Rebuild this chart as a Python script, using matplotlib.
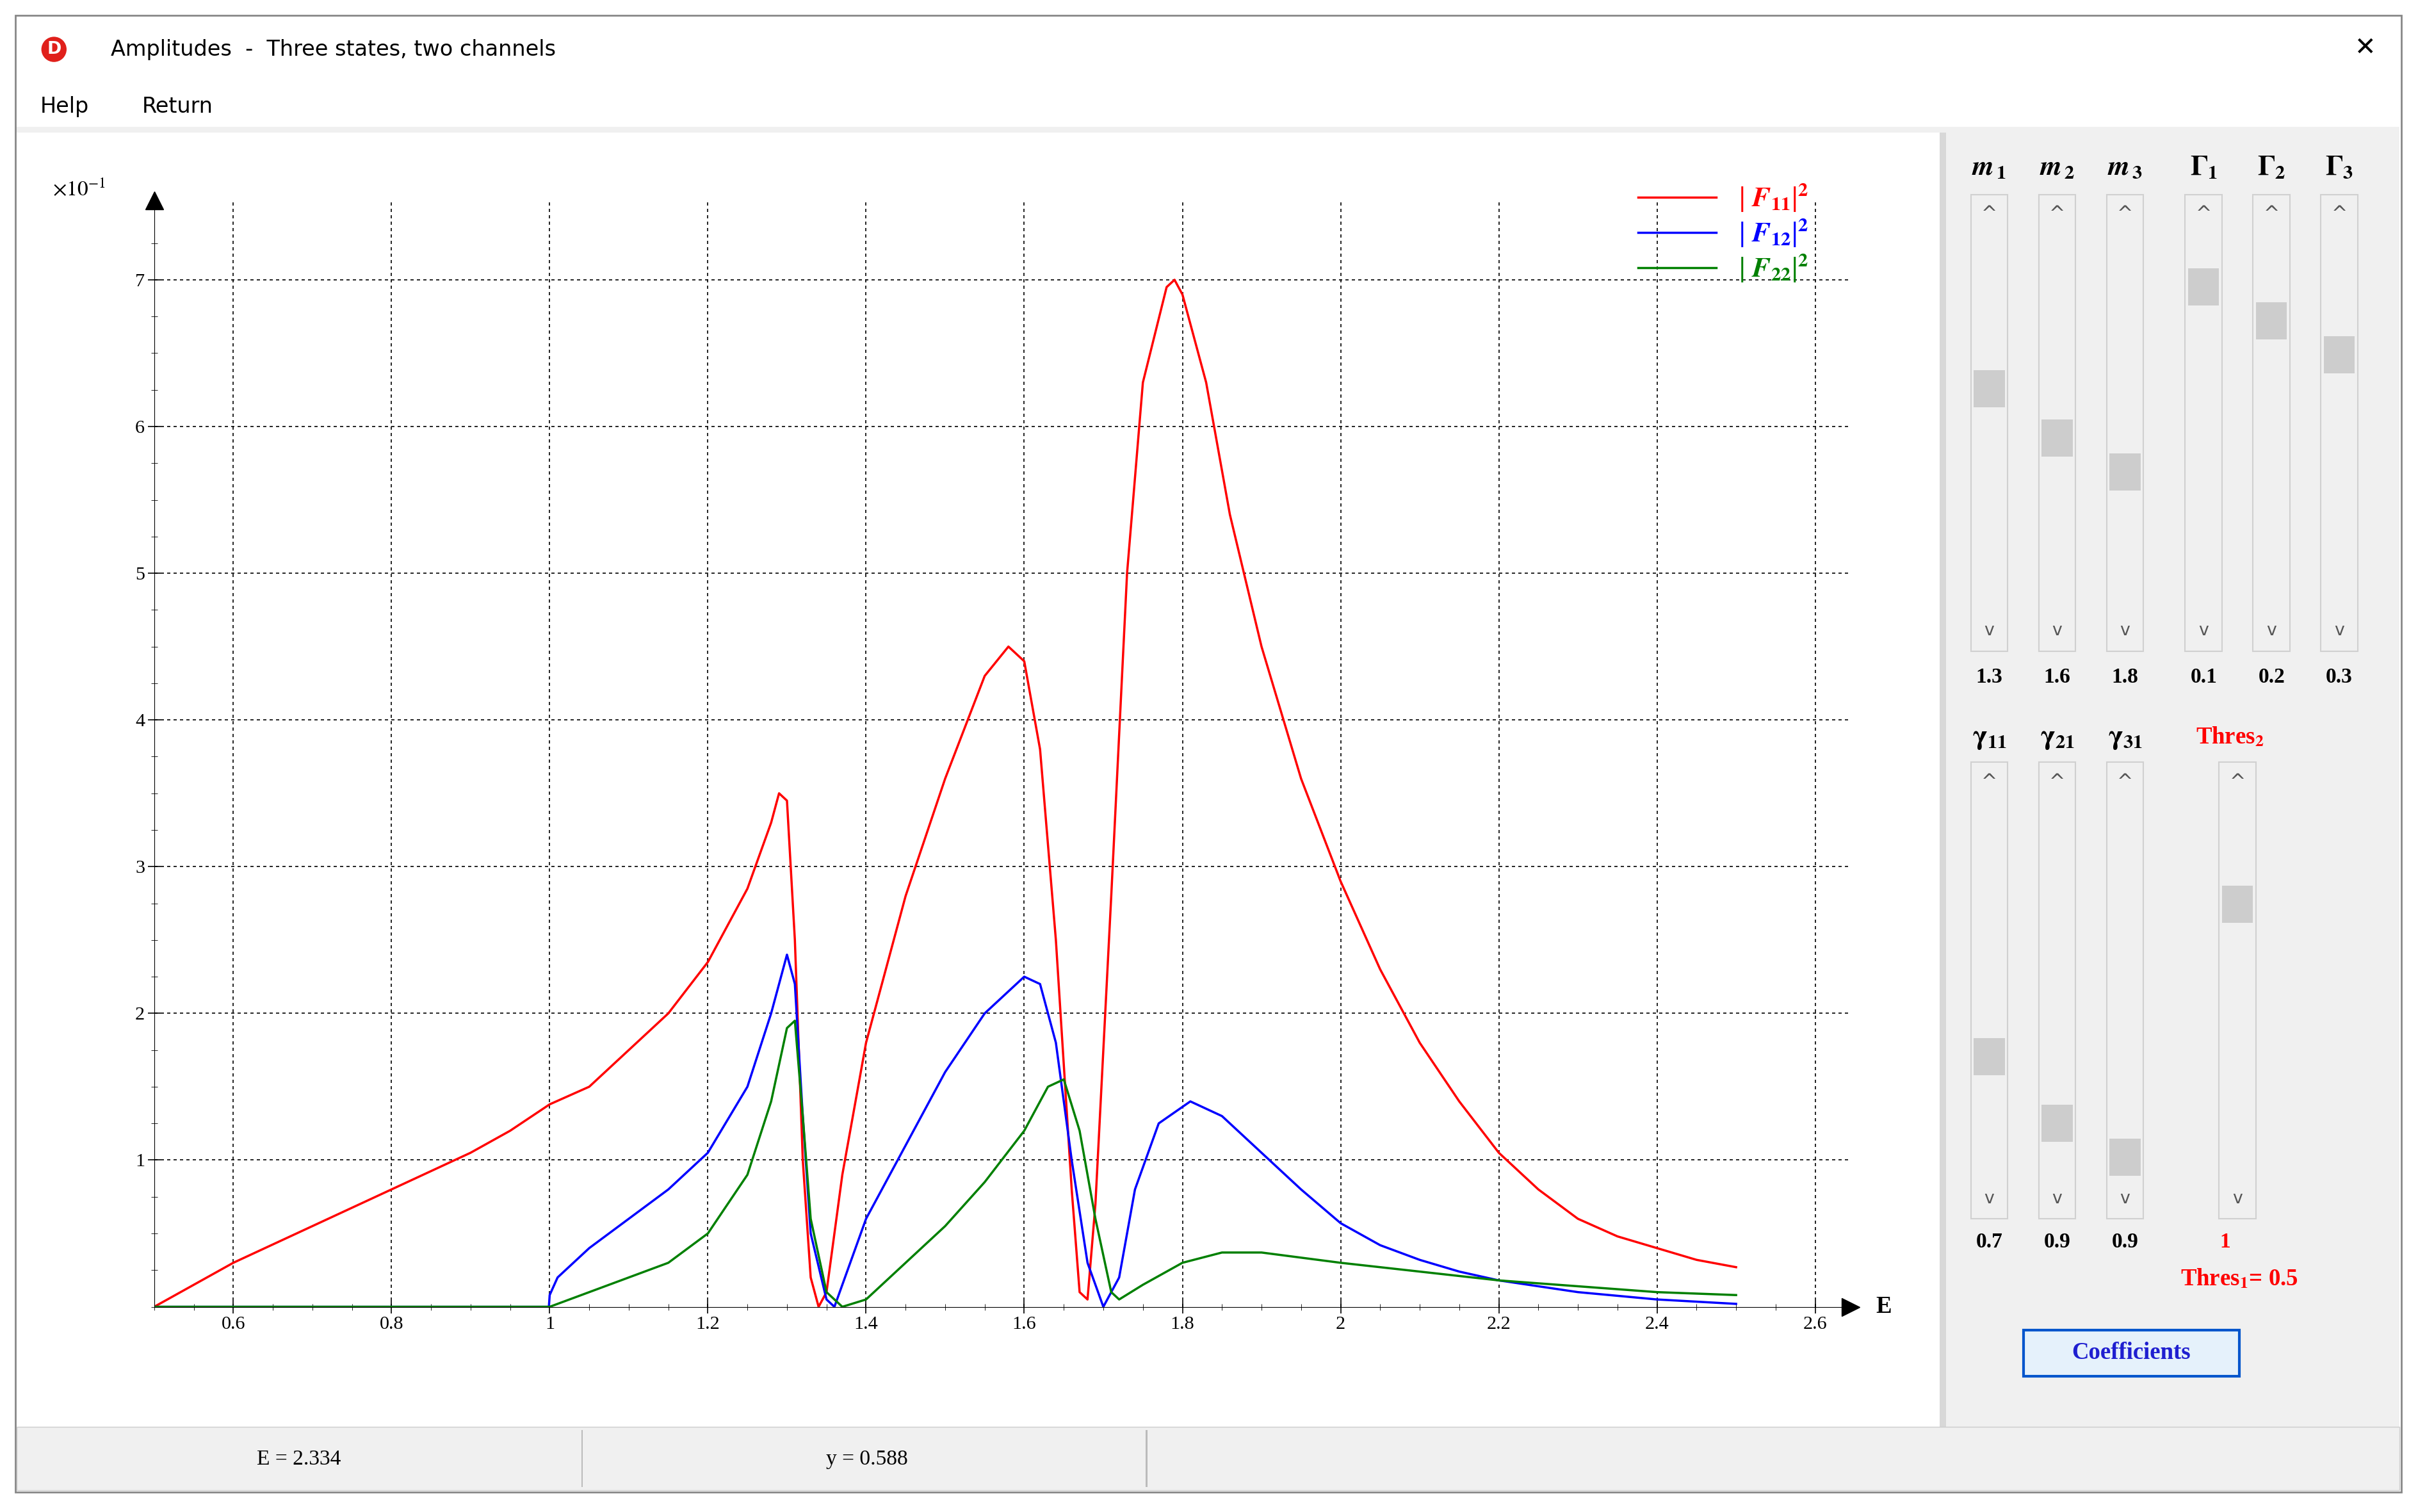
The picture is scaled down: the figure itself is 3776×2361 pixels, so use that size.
import matplotlib.pyplot as plt
from matplotlib.patches import Rectangle
import numpy as np

plt.rcParams['mathtext.fontset'] = 'stix'

# curve samples (y in absolute units)
e_red = [0.5, 0.6, 0.7, 0.8, 0.9, 0.95, 1.0, 1.05, 1.1, 1.15, 1.2, 1.25, 1.28, 1.29, 1.30, 1.31, 1.32, 1.33, 1.34,
         1.35, 1.37, 1.4, 1.45, 1.5, 1.55, 1.58, 1.6, 1.62, 1.64, 1.66, 1.67, 1.68, 1.69, 1.71, 1.73, 1.75, 1.78,
         1.79, 1.8, 1.83, 1.86, 1.9, 1.95, 2.0, 2.05, 2.1, 2.15, 2.2, 2.25, 2.3, 2.35, 2.4, 2.45, 2.5]
f11 = [0, 0.3, 0.55, 0.8, 1.05, 1.2, 1.38, 1.5, 1.75, 2.0, 2.35, 2.85, 3.3, 3.5, 3.45, 2.5, 1.0, 0.2, 0.0,
       0.1, 0.9, 1.8, 2.8, 3.6, 4.3, 4.5, 4.4, 3.8, 2.5, 0.8, 0.1, 0.05, 0.7, 2.8, 5.0, 6.3, 6.95,
       7.0, 6.9, 6.3, 5.4, 4.5, 3.6, 2.9, 2.3, 1.8, 1.4, 1.05, 0.8, 0.6, 0.48, 0.4, 0.32, 0.27]
e_blue = [0.5, 0.999, 1.0, 1.01, 1.05, 1.1, 1.15, 1.2, 1.25, 1.28, 1.30, 1.31, 1.32, 1.33, 1.35, 1.36, 1.38, 1.4,
          1.45, 1.5, 1.55, 1.6, 1.62, 1.64, 1.66, 1.68, 1.70, 1.72, 1.74, 1.77, 1.81, 1.85, 1.9, 1.95, 2.0,
          2.05, 2.1, 2.15, 2.2, 2.3, 2.4, 2.5]
f12 = [0, 0, 0.08, 0.2, 0.4, 0.6, 0.8, 1.05, 1.5, 2.0, 2.4, 2.2, 1.3, 0.5, 0.05, 0.0, 0.3, 0.6,
       1.1, 1.6, 2.0, 2.25, 2.2, 1.8, 1.0, 0.3, 0.0, 0.2, 0.8, 1.25, 1.4, 1.3, 1.05, 0.8, 0.57,
       0.42, 0.32, 0.24, 0.18, 0.1, 0.05, 0.02]
e_green = [0.5, 1.0, 1.05, 1.1, 1.15, 1.2, 1.25, 1.28, 1.30, 1.31, 1.32, 1.33, 1.35, 1.37, 1.4, 1.45, 1.5, 1.55,
           1.6, 1.63, 1.65, 1.67, 1.69, 1.71, 1.72, 1.75, 1.8, 1.85, 1.9, 2.0, 2.1, 2.2, 2.3, 2.4, 2.5]
f22 = [0, 0, 0.1, 0.2, 0.3, 0.5, 0.9, 1.4, 1.9, 1.95, 1.3, 0.6, 0.1, 0.0, 0.05, 0.3, 0.55, 0.85,
       1.2, 1.5, 1.55, 1.2, 0.6, 0.1, 0.05, 0.15, 0.3, 0.37, 0.37, 0.3, 0.24, 0.18, 0.14, 0.1, 0.08]

x_ticks = [0.6, 0.8, 1.0, 1.2, 1.4, 1.6, 1.8, 2.0, 2.2, 2.4, 2.6]
x_tick_labels = ['0.6', '0.8', '1', '1.2', '1.4', '1.6', '1.8', '2', '2.2', '2.4', '2.6']
y_ticks = [1, 2, 3, 4, 5, 6, 7]

top_labels = ['$\\mathbfit{m}_{\\,\\mathbf{1}}$', '$\\mathbfit{m}_{\\,\\mathbf{2}}$', '$\\mathbfit{m}_{\\,\\mathbf{3}}$',
              '$\\mathbf{\\Gamma}_{\\mathbf{1}}$', '$\\mathbf{\\Gamma}_{\\mathbf{2}}$', '$\\mathbf{\\Gamma}_{\\mathbf{3}}$']
top_values = ['1.3', '1.6', '1.8', '0.1', '0.2', '0.3']
top_thumbs = [252, 284, 306, 186, 208, 230]
top_cols = [1290, 1334, 1378, 1429, 1473, 1517]
bot_labels = ['$\\mathbf{\\gamma}_{\\mathbf{11}}$', '$\\mathbf{\\gamma}_{\\mathbf{21}}$', '$\\mathbf{\\gamma}_{\\mathbf{31}}$']
bot_values = ['0.7', '0.9', '0.9']
bot_thumbs = [685, 728, 750, 586]
bot_cols = [1290, 1334, 1378, 1451]

W, H = 1568.0, 980.0
def fx(p): return p / W
def fy(p): return 1 - p / H

fig = plt.figure(figsize=(37.76, 23.61), dpi=100)
fig.patch.set_facecolor('white')
S = 2.41  # font scale from displayed px

def rect(x0, y0, x1, y1, fc, ec='none', lw=1, z=0):
    fig.patches.append(Rectangle((fx(x0), fy(y1)), fx(x1) - fx(x0), fy(y0) - fy(y1),
                                 transform=fig.transFigure, facecolor=fc, edgecolor=ec, lw=lw, zorder=z))

# window chrome
rect(10, 10, 1557, 967, 'white', '#888888', 2)
rect(11, 82, 1556, 86, '#f0f0f0')
rect(1260, 86, 1556, 925, '#f0f0f0')
rect(1258, 86, 1262, 925, '#d8d8d8')
rect(11, 925, 1556, 966, '#f0f0f0', '#cccccc', 1)
for sx in [377, 743]:
    rect(sx, 927, sx + 1, 964, '#bbbbbb')
fig.text(fx(35), fy(32), 'D', color='white', fontsize=8 * S, fontweight='bold', ha='center', va='center',
         bbox=dict(boxstyle='circle,pad=0.25', fc='#e0201b', ec='none'))
fig.text(fx(72), fy(32), 'Amplitudes  -  Three states, two channels', fontsize=10 * S, va='center')
fig.text(fx(1534), fy(31), '\u2715', fontsize=12 * S, ha='center', va='center')
fig.text(fx(26), fy(69), 'Help', fontsize=10 * S, va='center')
fig.text(fx(92), fy(69), 'Return', fontsize=10 * S, va='center')
fig.text(fx(194), fy(946), 'E = 2.334', fontsize=10 * S, ha='center', va='center', family='Liberation Serif')
fig.text(fx(562), fy(946), 'y = 0.588', fontsize=10 * S, ha='center', va='center', family='Liberation Serif')

# sliders
def slider(cx, y0, y1, thumb):
    rect(cx - 12, y0, cx + 12, y1, '#f0f0f0', '#d0d0d0', 1.5, 2)
    rect(cx - 10, thumb - 12, cx + 10, thumb + 12, '#cdcdcd', z=3)
    fig.text(fx(cx), fy(y0 + 13), '^', fontsize=9 * S, ha='center', va='center', color='#555555')
    fig.text(fx(cx), fy(y1 - 13), 'v', fontsize=8 * S, ha='center', va='center', color='#555555')

for cx, lab, val, th in zip(top_cols, top_labels, top_values, top_thumbs):
    slider(cx, 126, 422, th)
    fig.text(fx(cx), fy(108), lab, fontsize=13 * S, ha='center', va='center')
    fig.text(fx(cx), fy(439), val, fontsize=10 * S, ha='center', va='center', fontweight='bold',
             family='Liberation Serif')
for i, (cx, th) in enumerate(zip(bot_cols, bot_thumbs)):
    slider(cx, 494, 790, th)
    if i < 3:
        fig.text(fx(cx), fy(478), bot_labels[i], fontsize=13 * S, ha='center', va='center')
        fig.text(fx(cx), fy(805), bot_values[i], fontsize=10 * S, ha='center', va='center', fontweight='bold',
                 family='Liberation Serif')
fig.text(fx(1446), fy(478), 'Thres$_\\mathbf{2}$', fontsize=11 * S, ha='center', va='center', color='red',
         fontweight='bold', family='Liberation Serif')
fig.text(fx(1443), fy(805), '1', fontsize=10 * S, ha='center', va='center', color='red', fontweight='bold',
         family='Liberation Serif')
fig.text(fx(1452), fy(829), 'Thres$_\\mathbf{1}$= 0.5', fontsize=11 * S, ha='center', va='center', color='red',
         fontweight='bold', family='Liberation Serif')
rect(1312, 862, 1452, 892, '#e5f1fb', '#0055cc', 3, 2)
fig.text(fx(1382), fy(877), 'Coefficients', fontsize=11 * S, ha='center', va='center', color='#1f1fd0',
         fontweight='bold', family='Liberation Serif', zorder=4)

# plot
ax = fig.add_axes([fx(100), fy(847), (1200 - 100) / W, (847 - 130) / H])
ax.set_zorder(5)
ax.set_facecolor('none')
ax.plot(e_red, np.array(f11) / 10, color='red', lw=2.5, label='| $\\mathbfit{F}_{\\mathbf{11}}$|$^{\\mathbf{2}}$')
ax.plot(e_blue, np.array(f12) / 10, color='blue', lw=2.5, label='| $\\mathbfit{F}_{\\mathbf{12}}$|$^{\\mathbf{2}}$')
ax.plot(e_green, np.array(f22) / 10, color='green', lw=2.5, label='| $\\mathbfit{F}_{\\mathbf{22}}$|$^{\\mathbf{2}}$')
ax.set_xlim(0.5, 0.5 + 1100 / 512.9)
ax.set_ylim(0, 0.754)
ax.set_xticks(x_ticks)
ax.set_xticklabels(x_tick_labels, fontsize=9 * S, family='Liberation Serif')
ax.set_yticks(np.array(y_ticks) / 10)
ax.set_yticklabels([str(v) for v in y_ticks], fontsize=9 * S, family='Liberation Serif')
ax.set_xticks(np.arange(0.5, 2.61, 0.05), minor=True)
ax.set_yticks(np.arange(0.0, 0.75, 0.025), minor=True)
ax.tick_params(direction='inout', length=14, width=1.2)
ax.tick_params(which='minor', direction='inout', length=7)
ax.grid(True, linestyle=(0, (3, 3)), color='black', lw=1.2)
for s in ['top', 'right']:
    ax.spines[s].set_visible(False)
ax.plot(1, 0, '>k', ms=20, transform=ax.transAxes, clip_on=False)
ax.plot(0, 1, '^k', ms=20, transform=ax.transAxes, clip_on=False)
ax.text(1.015, 0, 'E', transform=ax.transAxes, fontsize=11 * S, fontweight='bold', va='center',
        family='Liberation Serif')
ax.text(-0.06, 1.01, '$\\times 10^{-1}$', transform=ax.transAxes, fontsize=10 * S, va='center')
leg = ax.legend(loc='upper right', bbox_to_anchor=(0.99, 1.04), frameon=False, fontsize=13 * S,
                handlelength=2.8, labelspacing=0.1)
for t, c in zip(leg.get_texts(), ['red', 'blue', 'green']):
    t.set_color(c)
    t.set_family('Liberation Serif')
    t.set_fontweight('bold')

fig.savefig('out.png', dpi=100)
